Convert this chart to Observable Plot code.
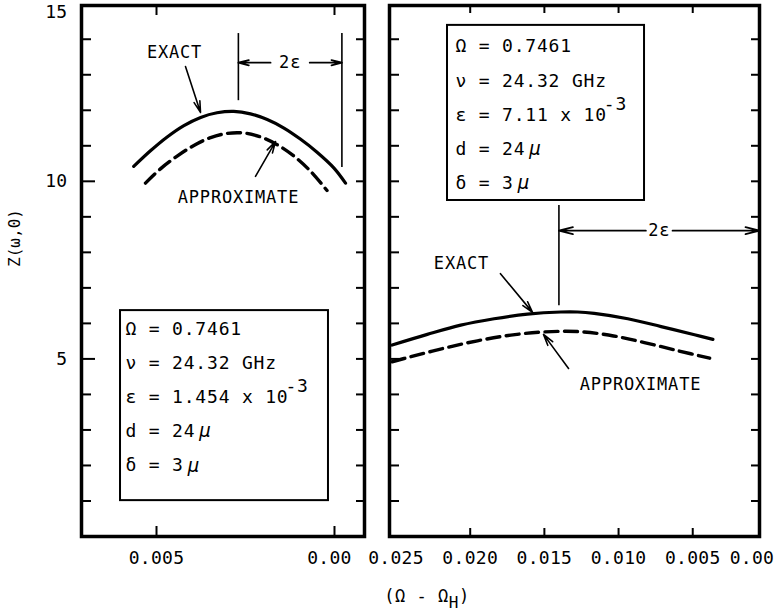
<!DOCTYPE html>
<html>
<head>
<meta charset="utf-8">
<script src="https://cdn.jsdelivr.net/npm/d3@7"></script>
<script src="https://cdn.jsdelivr.net/npm/@observablehq/plot@0.6"></script>
<style>
  body { margin: 0; background: #fff; }
  #fig { position: relative; width: 776px; height: 615px; background: #fff; color: #000;
         font-family: "DejaVu Sans Mono", monospace; overflow: hidden; }
  #left, #right { position: absolute; top: 0; }
  #left { left: 0; }
  #right { left: 372px; }
  #fig svg text { letter-spacing: 0.8px; }
  #fig svg g[aria-label="x-axis tick label"] text,
  #fig svg g[aria-label="y-axis tick label"] text { letter-spacing: 0.3px; }
  #ylabel { position: absolute; left: 14px; top: 238px; font-size: 16px; white-space: nowrap;
            transform: translate(-50%, -50%) rotate(-90deg); }
  #xlabel { position: absolute; left: 427px; top: 596px; font-size: 17px; white-space: nowrap;
            transform: translate(-50%, -50%); letter-spacing: 0.5px; }
  #xlabel sub { font-size: 16px; vertical-align: -6px; line-height: 0; }
</style>
</head>
<body>
<div id="fig">
  <div id="left"></div>
  <div id="right"></div>
  <div id="ylabel">Z(ω,0)</div>
  <div id="xlabel">(Ω - Ω<sub>H</sub>)</div>
</div>
<script>
// ---------- data: Z(ω,0) against (Ω − Ω_H) ----------
// Left panel, ε = 1.454e-3
const leftExactX  = [0.00564, 0.00517, 0.00470, 0.00423, 0.00376, 0.00330, 0.00283, 0.00236, 0.00189, 0.00142, 0.00096, 0.00049, 0.00002, -0.00031];
const leftExactZ  = [10.42, 10.86, 11.25, 11.57, 11.80, 11.93, 11.97, 11.90, 11.74, 11.50, 11.19, 10.82, 10.38, 9.95];
const leftApproxX = [0.00531, 0.00489, 0.00442, 0.00395, 0.00348, 0.00301, 0.00255, 0.00208, 0.00161, 0.00114, 0.00067, 0.00021];
const leftApproxZ = [9.95, 10.35, 10.71, 11.01, 11.23, 11.35, 11.36, 11.25, 11.03, 10.71, 10.28, 9.74];

// Right panel, ε = 7.11e-3
const rightExactX  = [0.02526, 0.02289, 0.02064, 0.01839, 0.01614, 0.01389, 0.01276, 0.01164, 0.00938, 0.00713, 0.00488, 0.00364];
const rightExactZ  = [5.39, 5.69, 5.95, 6.13, 6.26, 6.32, 6.32, 6.28, 6.13, 5.91, 5.68, 5.55];
const rightApproxX = [0.02526, 0.02402, 0.02177, 0.01951, 0.01726, 0.01501, 0.01276, 0.01051, 0.00826, 0.00600, 0.00386];
const rightApproxZ = [4.92, 5.06, 5.30, 5.51, 5.67, 5.76, 5.77, 5.66, 5.46, 5.23, 5.02];

// Axis ticks and labels
const zMinorTicks = [1, 2, 3, 4, 6, 7, 8, 9, 11, 12, 13, 14];
const zMajorTicks = [5, 10];
const zAllTicks = [...zMinorTicks, ...zMajorTicks];
const zLabels = [5, 10];
const zTopLabel = [15];
const leftXTicks = [0.005, 0];
const rightXTicks = [0.020, 0.015, 0.010, 0.005];
const rightXEndLabels = [0.025];
const zeroLabel = [0];

// Parameter boxes
const epsLeft = 1.454e-3;
const epsRight = 7.11e-3;
const leftParams  = ["Ω = 0.7461", "ν = 24.32 GHz", "ε = 1.454 x 10", "d = 24", "δ = 3"];
const rightParams = ["Ω = 0.7461", "ν = 24.32 GHz", "ε = 7.11 x 10", "d = 24", "δ = 3"];
const exponentText = "-3";
const microText = "μ";
const exactText = "EXACT";
const approxText = "APPROXIMATE";
const twoEpsText = "2ε";

// ---------- layout ----------
const H = 570, MT = 5, MB = 34;
const zDomain = [0, 14.95];
const frameH = H - MT - MB;
const pitch = 18 * 0.602 + 0.8;      // monospace advance of the box text
const fmt = d => d === 0 ? "0.00" : d3.format(".3f")(d);
const zip = (xs, ys) => xs.map((x, i) => ({x, z: ys[i]}));
const plotStyle = {fontFamily: "'DejaVu Sans Mono', monospace", fontSize: "18px", color: "black",
                   background: "white", overflow: "visible"};

// inward ticks along all four sides of a panel frame
function frameTicks(fw, xTicks, leftLen, majorLen, rightLen, xLen) {
  return [
    Plot.tickY(zMinorTicks, {y: d => d, insetRight: fw - leftLen, strokeWidth: 2}),
    Plot.tickY(zMajorTicks, {y: d => d, insetRight: fw - majorLen, strokeWidth: 2}),
    Plot.tickY(zAllTicks, {y: d => d, insetLeft: fw - rightLen, strokeWidth: 2}),
    Plot.tickX(xTicks, {x: d => d, insetTop: frameH - xLen, strokeWidth: 2}),
    Plot.tickX(xTicks, {x: d => d, insetBottom: frameH - xLen, strokeWidth: 2})
  ];
}

function curves(ex, ez, ax, az) {
  return [
    Plot.line(zip(ex, ez), {x: "x", y: "z", curve: "catmull-rom", stroke: "black", strokeWidth: 3.2}),
    Plot.line(zip(ax, az), {x: "x", y: "z", curve: "catmull-rom", stroke: "black", strokeWidth: 3.4,
                            strokeDasharray: "13,6.5"})
  ];
}

function paramBox(box, lines) {
  const rows = lines.map((t, i) => ({x: box.tx, y: box.ty - i * box.step, t}));
  const eRow = rows[2], dRow = rows[3], sRow = rows[4];
  const micro = row => Plot.text([row], {x: "x", y: "y", text: () => microText, textAnchor: "start",
                                         fontSize: 19, fontStyle: "italic", dx: row.t.length * pitch + 4});
  return [
    Plot.rect([box], {x1: "x1", x2: "x2", y1: "y1", y2: "y2", fill: "white", stroke: "black", strokeWidth: 2}),
    Plot.text(rows, {x: "x", y: "y", text: "t", textAnchor: "start", fontSize: 18}),
    Plot.text([eRow], {x: "x", y: "y", text: () => exponentText, textAnchor: "start", fontSize: 18,
                       dx: eRow.t.length * pitch - 3, dy: -11}),
    micro(dRow),
    micro(sRow)
  ];
}

function twoEps(a) {
  return [
    Plot.ruleX(a.lines, {x: "x", y1: "y1", y2: "y2", strokeWidth: 1.6}),
    Plot.arrow([{x1: a.mid + a.gap, x2: a.lx, y: a.y}, {x1: a.mid - a.gap, x2: a.rx, y: a.y}],
               {x1: "x1", x2: "x2", y1: "y", y2: "y", strokeWidth: 1.8, headLength: 12, headAngle: 28}),
    Plot.text([a], {x: "mid", y: "y", text: () => twoEpsText, fontSize: 17})
  ];
}

function labelArrows(items) {
  return [
    Plot.arrow(items, {x1: "ax1", y1: "ay1", x2: "ax2", y2: "ay2", strokeWidth: 1.6, headLength: 11, headAngle: 30}),
    Plot.text(items, {x: "x", y: "y", text: "t", fontSize: 17})
  ];
}

// ---------- left panel ----------
const leftVert = 0.0027;
const leftTwoEps = {
  lines: [{x: leftVert, y1: 12.27, y2: 14.16}, {x: leftVert - 2 * epsLeft, y1: 10.39, y2: 14.16}],
  lx: leftVert, rx: leftVert - 2 * epsLeft,
  mid: leftVert - epsLeft, gap: 0.00055, y: 13.34
};
const leftLabels = [
  {t: exactText, x: 0.004495, y: 13.63, ax1: 0.004186, ay1: 13.23, ax2: 0.003764, ay2: 11.94},
  {t: approxText, x: 0.002697, y: 9.54, ax1: 0.002219, ay1: 10.14, ax2: 0.001657, ay2: 11.12}
];
const leftBox = {x1: 0.006011, x2: 0.000169, y1: 1.01, y2: 6.36, tx: 0.00587, ty: 5.84, step: 0.96};

const leftPlot = Plot.plot({
  width: 372, height: H,
  marginLeft: 81, marginRight: 8, marginTop: MT, marginBottom: MB,
  x: {domain: [0.007107, -0.000843]},
  y: {domain: zDomain},
  style: plotStyle,
  marks: [
    ...frameTicks(283, leftXTicks, 10, 14, 8, 10),
    Plot.axisY(zLabels, {tickSize: 0, tickPadding: 14, tickFormat: d => String(d), fontSize: 18, label: null}),
    Plot.axisY(zTopLabel, {tickSize: 0, tickPadding: 14, tickFormat: d => String(d), fontSize: 18, label: null, dy: 9}),
    Plot.axisX([0.005], {tickSize: 0, tickPadding: 15, tickFormat: fmt, fontSize: 18, label: null}),
    Plot.axisX(zeroLabel, {tickSize: 0, tickPadding: 15, tickFormat: fmt, fontSize: 18, label: null, dx: -5}),
    ...curves(leftExactX, leftExactZ, leftApproxX, leftApproxZ),
    ...twoEps(leftTwoEps),
    ...labelArrows(leftLabels),
    ...paramBox(leftBox, leftParams),
    Plot.frame({stroke: "black", strokeWidth: 3.5})
  ]
});
document.getElementById("left").append(leftPlot);

// ---------- right panel ----------
const rightVert = 0.01402;
const rightXMax = 0.0005;
const rightTwoEps = {
  lines: [{x: rightVert, y1: 6.50, y2: 9.32}],
  lx: rightVert, rx: rightXMax,
  mid: (rightVert + rightXMax) / 2, gap: 0.0009, y: 8.61
};
const rightLabels = [
  {t: exactText, x: 0.02059, y: 7.69, ax1: 0.01796, ay1: 7.40, ax2: 0.01580, ay2: 6.31},
  {t: approxText, x: 0.00852, y: 4.28, ax1: 0.01337, ay1: 4.73, ax2: 0.01506, ay2: 5.69}
];
const rightBox = {x1: 0.02153, x2: 0.00825, y1: 9.46, y2: 14.39, tx: 0.02099, ty: 13.79, step: 0.96};

const rightPlot = Plot.plot({
  width: 404, height: H,
  marginLeft: 17, marginRight: 17, marginTop: MT, marginBottom: MB,
  x: {domain: [0.02544, rightXMax]},
  y: {domain: zDomain, axis: null},
  style: plotStyle,
  marks: [
    ...frameTicks(370, rightXTicks, 10, 10, 8, 8),
    Plot.axisX([...rightXEndLabels, ...rightXTicks], {tickSize: 0, tickPadding: 15, tickFormat: fmt, fontSize: 18, label: null}),
    Plot.axisX(zeroLabel, {tickSize: 0, tickPadding: 15, tickFormat: fmt, fontSize: 18, label: null, dx: -15}),
    ...curves(rightExactX, rightExactZ, rightApproxX, rightApproxZ),
    ...twoEps(rightTwoEps),
    ...labelArrows(rightLabels),
    ...paramBox(rightBox, rightParams),
    Plot.frame({stroke: "black", strokeWidth: 3.5})
  ]
});
document.getElementById("right").append(rightPlot);
</script>
</body>
</html>
